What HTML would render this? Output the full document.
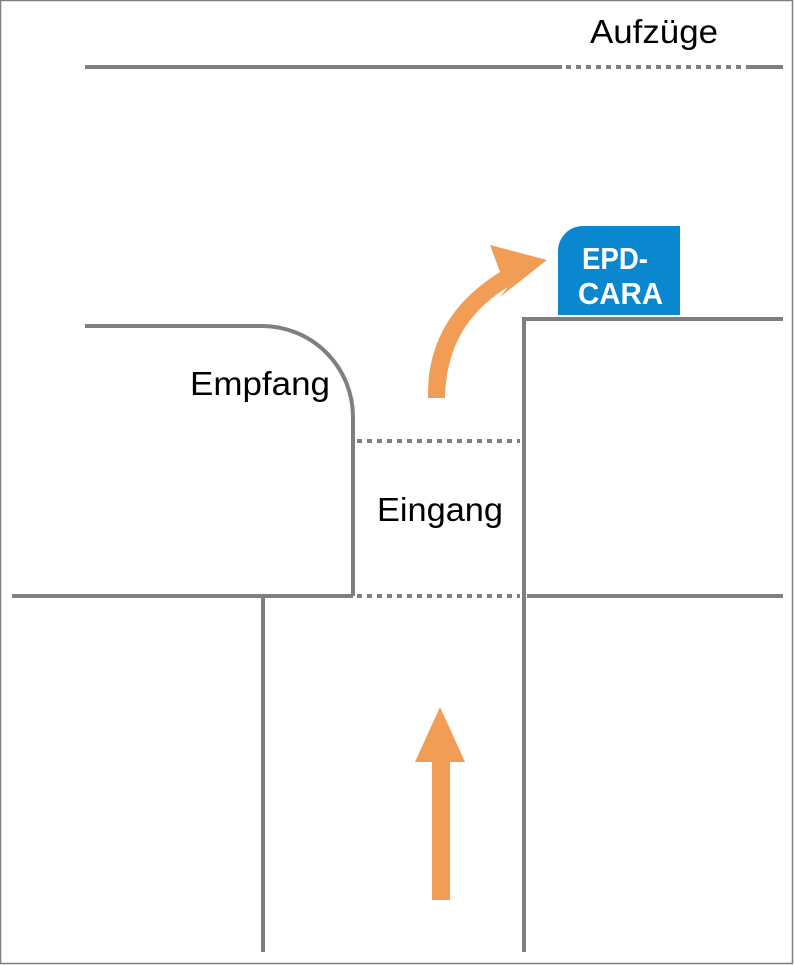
<!DOCTYPE html>
<html><head><meta charset="utf-8"><style>
html,body{margin:0;padding:0;background:#fff;}
svg{display:block}
text{font-family:"Liberation Sans",sans-serif;}
</style></head><body>
<svg width="794" height="965" viewBox="0 0 794 965" xmlns="http://www.w3.org/2000/svg">
<rect x="0.5" y="0.5" width="792" height="963" fill="#fff" stroke="#7f7f7f" stroke-width="1.5"/>
<g stroke="#7f7f7f" stroke-width="4" fill="none">
<line x1="85" y1="67" x2="562" y2="67"/>
<line x1="566" y1="67" x2="744" y2="67" stroke-dasharray="5,5"/>
<line x1="746" y1="67" x2="783" y2="67"/>
<path d="M85 326 H262 A91 91 0 0 1 353 417 V596"/>
<line x1="12" y1="596" x2="353" y2="596"/>
<line x1="263" y1="596" x2="263" y2="952"/>
<line x1="357" y1="441" x2="520" y2="441" stroke-dasharray="5,5"/>
<line x1="357" y1="596" x2="520" y2="596" stroke-dasharray="5,5"/>
<path d="M524 952 V319 H783"/>
<line x1="527" y1="596" x2="783" y2="596"/>
</g>
<path d="M428 398 C427 340 455 300 500 272 L490 245 L547 260 L500 297 L508 287 C470 310 446 345 445 398 Z" fill="#f29d56"/>
<path d="M432 900 V762 H415 L440 707 L465 762 H450 V900 Z" fill="#f29d56"/>
<path d="M558 315 V251 A25 25 0 0 1 583 226 H680 V315 Z" fill="#0a87cf"/>
<text x="582" y="269" font-size="31" font-weight="bold" fill="#fff" textLength="66" lengthAdjust="spacingAndGlyphs">EPD-</text>
<text x="578" y="304" font-size="31" font-weight="bold" fill="#fff" textLength="85" lengthAdjust="spacingAndGlyphs">CARA</text>
<text x="590" y="43" font-size="33" fill="#000" textLength="128" lengthAdjust="spacingAndGlyphs">Aufzüge</text>
<text x="190" y="395" font-size="33" fill="#000" textLength="140" lengthAdjust="spacingAndGlyphs">Empfang</text>
<text x="377" y="521" font-size="33" fill="#000" textLength="126" lengthAdjust="spacingAndGlyphs">Eingang</text>
</svg>
</body></html>
